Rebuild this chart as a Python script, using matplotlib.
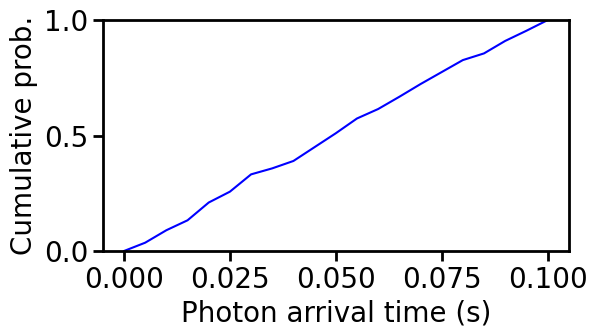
import matplotlib
matplotlib.use("Agg")
import matplotlib.pyplot as plt

# Photon arrival times (s) and cumulative probability
arrival_time = [0.000, 0.005, 0.010, 0.015, 0.020, 0.025, 0.030, 0.035, 0.040,
                0.045, 0.050, 0.055, 0.060, 0.065, 0.070, 0.075, 0.080, 0.085,
                0.090, 0.095, 0.100]
cumulative_prob = [0.000, 0.036, 0.090, 0.133, 0.210, 0.257, 0.332, 0.358, 0.390,
                   0.450, 0.510, 0.574, 0.615, 0.668, 0.723, 0.775, 0.827, 0.856,
                   0.910, 0.954, 1.000]

plt.rcParams["font.size"] = 20

fig, ax = plt.subplots(figsize=(5.98, 3.36), dpi=100)
fig.subplots_adjust(left=0.172, right=0.951, top=0.940, bottom=0.253)

ax.plot(arrival_time, cumulative_prob, color="blue", linewidth=1.5)

ax.set_ylim(0, 1)
ax.set_xticks([0.000, 0.025, 0.050, 0.075, 0.100])
ax.set_yticks([0.0, 0.5, 1.0])
ax.set_xlabel("Photon arrival time (s)")
ax.set_ylabel("Cumulative prob.")

for spine in ax.spines.values():
    spine.set_linewidth(2)
ax.tick_params(width=2, length=7, labelsize=20)

plt.savefig("out.png", dpi=100)
plt.close()
